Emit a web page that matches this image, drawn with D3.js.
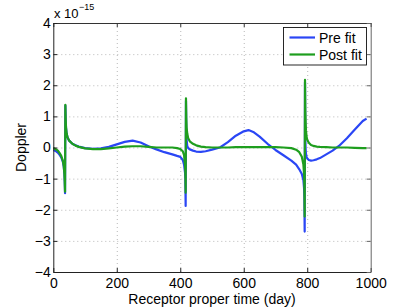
<!DOCTYPE html>
<html>
<head>
<meta charset="utf-8">
<script src="https://cdn.jsdelivr.net/npm/d3@7"></script>
<style>
  body { margin: 0; background: #fff; }
  svg { display: block; font-family: "Liberation Sans", Arial, Helvetica, sans-serif; }
  .grid line { stroke: #b8b8b8; stroke-dasharray: 1,3; stroke-width: 1; }
  .grid path { display: none; }
</style>
</head>
<body>
<div id="container"></div>
<script>
// time in days
const tDays = [0, 5, 10, 15, 20, 25, 30, 33, 35, 36, 37, 38, 39, 40, 42, 45, 50, 60, 70, 80,
  100, 125, 150, 175, 200, 225, 250, 275, 300, 325, 350, 375, 390, 400, 408, 412, 415, 416, 417,
  418, 419, 420, 422, 425, 430, 440, 450, 465, 480, 500, 525, 550, 575, 600, 615, 630, 650, 675,
  690, 700, 725, 750, 765, 775, 783, 788, 790, 791, 792, 793, 794, 795, 796, 798, 800, 805, 812,
  820, 830, 840, 860, 880, 900, 925, 950, 975, 987];

// doppler, units of 1e-15
const preFit = [-0.08, -0.1, -0.13, -0.17, -0.24, -0.32, -0.45, -0.62, -0.85, -1.1, -1.47, 1.35, 0.9, 0.65, 0.45, 0.32, 0.22, 0.12, 0.07, 0.03,
  -0.02, -0.04, -0.03, 0.02, 0.1, 0.18, 0.22, 0.16, 0.04, -0.06, -0.15, -0.22, -0.27, -0.3, -0.4, -0.55, -0.8, -1.0, -1.88,
  1.5, 0.6, 0.25, 0.05, -0.02, -0.06, -0.1, -0.13, -0.14, -0.12, -0.07, 0.0, 0.17, 0.38, 0.52, 0.56, 0.5, 0.35, 0.12,
  0.0, -0.08, -0.25, -0.42, -0.55, -0.7, -0.85, -1.05, -1.3, -1.6, -2.7, 2.1, 0.3, -0.05, -0.2, -0.3, -0.35, -0.4, -0.42,
  -0.41, -0.38, -0.34, -0.22, -0.1, 0.05, 0.3, 0.58, 0.85, 0.93];

const postFit = [-0.02, -0.04, -0.07, -0.11, -0.18, -0.27, -0.42, -0.6, -0.85, -1.1, -1.42, 1.37, 0.9, 0.65, 0.45, 0.32, 0.22, 0.12, 0.06, 0.02,
  -0.03, -0.05, -0.05, -0.03, 0.0, 0.03, 0.04, 0.04, 0.02, 0.0, 0.0, 0.0, -0.02, -0.05, -0.12, -0.25, -0.55, -0.8, -1.45,
  1.58, 0.95, 0.65, 0.45, 0.3, 0.2, 0.12, 0.07, 0.03, 0.01, 0.0, 0.0, 0.0, 0.01, 0.01, 0.01, 0.01, 0.01, 0.01,
  0.01, 0.01, 0.0, -0.02, -0.07, -0.15, -0.3, -0.55, -0.85, -1.2, -2.22, 2.17, 1.2, 0.8, 0.55, 0.35, 0.25, 0.15, 0.08,
  0.05, 0.03, 0.02, 0.01, 0.0, 0.0, 0.0, -0.01, -0.02, -0.02];

const xTicks = [0, 200, 400, 600, 800, 1000];
const yTicks = [-4, -3, -2, -1, 0, 1, 2, 3, 4];
const seriesNames = ["Pre fit", "Post fit"];
const seriesColors = ["#2a46f5", "#1e9e1e"];

const W = 410, H = 308;
const m = { left: 53.3, right: 370.7, top: 23, bottom: 272 };
const fs = 14;

const svg = d3.select("#container").append("svg")
  .attr("width", W).attr("height", H);

const x = d3.scaleLinear().domain([0, 1000]).range([m.left, m.right]);
const y = d3.scaleLinear().domain([-4, 4]).range([m.bottom, m.top]);

// grid
svg.append("g").attr("class", "grid")
  .attr("transform", `translate(0,${m.bottom})`)
  .call(d3.axisBottom(x).tickValues(xTicks.slice(1, -1)).tickSize(-(m.bottom - m.top)).tickFormat(""));
svg.append("g").attr("class", "grid")
  .attr("transform", `translate(${m.left},0)`)
  .call(d3.axisLeft(y).tickValues(yTicks.slice(1, -1)).tickSize(-(m.right - m.left)).tickFormat(""));

// lines
const line = d3.line().x((d, i) => x(tDays[i])).y(d => y(d));
[preFit, postFit].forEach((s, k) => {
  svg.append("path")
    .attr("d", line(s))
    .attr("fill", "none")
    .attr("stroke", seriesColors[k])
    .attr("stroke-width", 2.2)
    .attr("stroke-linejoin", "round");
});

function styleAxis(g, color) {
  g.select(".domain").attr("stroke", color).attr("stroke-width", 1);
  g.selectAll(".tick line").attr("stroke", color);
  g.selectAll(".tick text").attr("fill", "#000").attr("font-size", fs)
    .attr("font-family", "Liberation Sans, Arial, sans-serif");
}

const fmt = d => d < 0 ? "\u2212" + Math.abs(d) : String(d);

// bottom axis
svg.append("g")
  .attr("transform", `translate(0,${m.bottom})`)
  .call(d3.axisBottom(x).tickValues(xTicks).tickSize(-4).tickSizeOuter(0).tickPadding(6.3).tickFormat(fmt))
  .call(g => styleAxis(g, "#222"));
// top axis
svg.append("g")
  .attr("transform", `translate(0,${m.top})`)
  .call(d3.axisTop(x).tickValues(xTicks).tickSize(-4).tickSizeOuter(0).tickFormat(""))
  .call(g => styleAxis(g, "#333"));
// left axis
svg.append("g")
  .attr("transform", `translate(${m.left},0)`)
  .call(d3.axisLeft(y).tickValues(yTicks).tickSize(-4).tickSizeOuter(0).tickPadding(2.5).tickFormat(fmt))
  .call(g => styleAxis(g, "#222"));
// right axis
svg.append("g")
  .attr("transform", `translate(${m.right},0)`)
  .call(d3.axisRight(y).tickValues(yTicks).tickSize(-4).tickSizeOuter(0).tickFormat(""))
  .call(g => styleAxis(g, "#666"));

// exponent label
const ex = svg.append("text").attr("x", 54).attr("y", 18).attr("font-size", 13).attr("fill", "#000");
ex.append("tspan").text("x 10");
ex.append("tspan").attr("font-size", 9).attr("dy", -8.5).attr("dx", 0.5).text("\u221215");

// axis titles
svg.append("text")
  .attr("x", (m.left + m.right) / 2).attr("y", 304)
  .attr("text-anchor", "middle").attr("font-size", fs)
  .text("Receptor proper time (day)");
svg.append("text")
  .attr("transform", `translate(26,${(m.top + m.bottom) / 2}) rotate(-90)`)
  .attr("text-anchor", "middle").attr("font-size", fs)
  .text("Doppler");

// legend
const lg = svg.append("g");
lg.append("rect")
  .attr("x", 283.5).attr("y", 27.5).attr("width", 83).attr("height", 37.5)
  .attr("fill", "#fff").attr("stroke", "#111").attr("stroke-width", 0.9);
seriesNames.forEach((name, i) => {
  const yy = 37.5 + i * 17;
  lg.append("line").attr("x1", 289.5).attr("x2", 315).attr("y1", yy).attr("y2", yy)
    .attr("stroke", seriesColors[i]).attr("stroke-width", 2.2);
  lg.append("text").attr("x", 319).attr("y", yy + 5).attr("font-size", fs).text(name);
});
</script>
</body>
</html>
